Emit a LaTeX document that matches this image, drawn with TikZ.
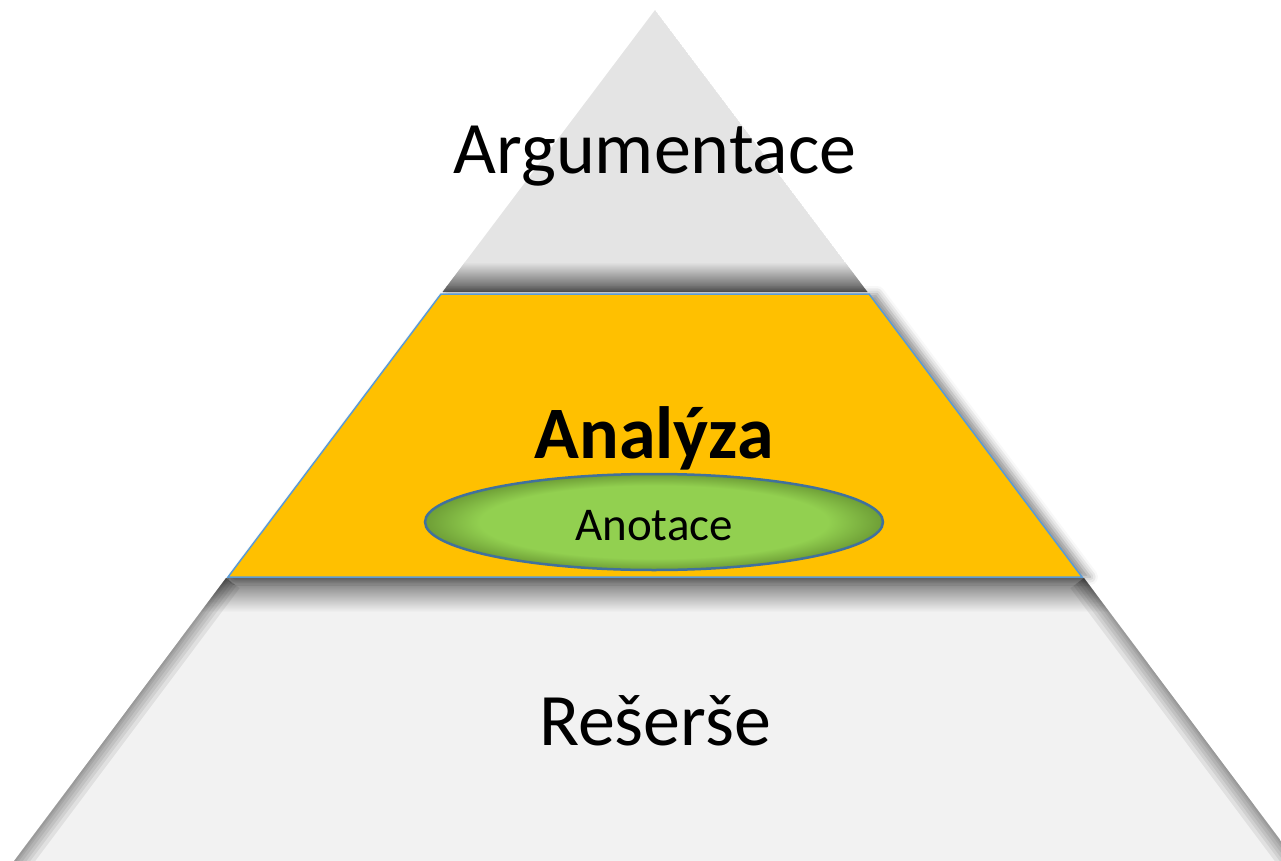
\documentclass[tikz,border=0pt]{standalone}
\usepackage{fontspec}
\setmainfont{Carlito}
\usetikzlibrary{shapes.geometric,shadows.blur}
\definecolor{topgrey}{HTML}{E4E4E4}
\definecolor{botgrey}{HTML}{F2F2F2}
\definecolor{orangefill}{HTML}{FFC000}
\definecolor{blueline}{HTML}{5B9BD5}
\definecolor{greenin}{HTML}{92D050}
\definecolor{greenout}{HTML}{6E9E36}
\definecolor{ellborder}{HTML}{41719C}
\pgfdeclareradialshading{ellshade}{\pgfpoint{0bp}{0bp}}{color(0bp)=(greenin); color(19bp)=(greenin); color(25bp)=(greenout); color(50bp)=(greenout)}
\tikzset{
  bigtext/.style={font=\fontsize{74}{80}\selectfont, anchor=base, inner sep=0pt},
  smalltext/.style={font=\fontsize{47}{52}\selectfont, anchor=base, inner sep=0pt},
}
\begin{document}
\begin{tikzpicture}[x=1pt,y=-1pt]
\useasboundingbox (0,0) rectangle (1281,861);
% coordinates
\coordinate (apex) at (655,10);
\coordinate (tl) at (442.5,292);
\coordinate (tr) at (867.5,292);
\coordinate (ol1) at (441,294);
\coordinate (or1) at (869,294);
\coordinate (ol2) at (228,577);
\coordinate (or2) at (1082,577);
\coordinate (bl1) at (226,578);
\coordinate (br1) at (1084,578);
\coordinate (bl2) at (14,861);
\coordinate (br2) at (1296,861);
% top triangle
\begin{scope}
  \clip (apex) -- (tr) -- (tl) -- cycle;
  \fill[topgrey] (apex) -- (tr) -- (tl) -- cycle;
  \shade[top color=topgrey, bottom color=black!66] (400,262) rectangle (900,292);
\end{scope}
% bottom section
\begin{scope}
  \clip (bl1) -- (br1) -- (br2) -- (bl2) -- cycle;
  \fill[botgrey] (bl1) -- (br1) -- (br2) -- (bl2) -- cycle;
  \shade[top color=black!55, bottom color=botgrey] (0,578) rectangle (1300,612);
  \foreach \w in {34,26,20,14,8,4} {
    \draw[black, opacity=0.07, line width=\w pt] (bl1) -- (bl2);
    \draw[black, opacity=0.07, line width=\w pt] (br1) -- (br2);
  }
\end{scope}
% middle section (orange)
\path[fill=orangefill, draw=blueline, line width=1.5pt,
  blur shadow={shadow xshift=8pt, shadow yshift=0pt, shadow blur radius=8pt, shadow opacity=45}]
  (ol1) -- (or1) -- (or2) -- (ol2) -- cycle;
% ellipse
\node[ellipse, shading=ellshade, draw=ellborder, line width=2.5pt,
  minimum width=458pt, minimum height=96pt, inner sep=0pt] (ell) at (654,522) {};
% texts
\node[bigtext] (arg) at (655,174) {Argumentace};
\node[bigtext, font=\fontsize{74}{80}\selectfont\bfseries] (ana) at (654,458) {Analýza};
\node[smalltext] (ano) at (654,540) {Anotace};
\node[bigtext] (res) at (655,745) {Rešerše};
\end{tikzpicture}
\end{document}
